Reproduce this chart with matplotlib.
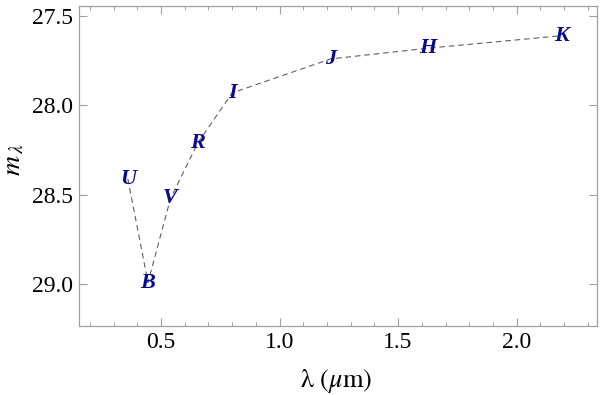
import matplotlib
matplotlib.use("Agg")
import matplotlib.pyplot as plt
from matplotlib.ticker import MultipleLocator

bands = ["U", "B", "V", "R", "I", "J", "H", "K"]
wavelength = [0.36, 0.445, 0.54, 0.655, 0.80, 1.215, 1.625, 2.19]
mag = [28.41, 28.99, 28.52, 28.21, 27.93, 27.74, 27.68, 27.61]

plt.rcParams["font.family"] = "serif"
plt.rcParams["font.serif"] = ["Liberation Serif"]
plt.rcParams["mathtext.fontset"] = "stix"

fig = plt.figure(figsize=(6.0, 3.95), dpi=100)
ax = fig.add_axes([79/600, 1-326/395, (597-79)/600, (326-6)/395])

ax.plot(wavelength, mag, ls=(0, (5, 3.5)), color="#606060", lw=0.8)
for b, x, y in zip(bands, wavelength, mag):
    ax.text(x, y, b, color="#0a0a8c", fontsize=16, fontweight="bold",
            fontstyle="italic", ha="center", va="center", family="Liberation Serif")

ax.set_xlim(0.154, 2.339)
ax.set_ylim(29.233, 27.444)
ax.xaxis.set_major_locator(MultipleLocator(0.5))
ax.xaxis.set_minor_locator(MultipleLocator(0.1))
ax.yaxis.set_major_locator(MultipleLocator(0.5))
ax.xaxis.set_major_formatter(plt.FuncFormatter(lambda v, p: f"{v:.1f}"))
ax.yaxis.set_major_formatter(plt.FuncFormatter(lambda v, p: f"{v:.1f}"))

for s in ax.spines.values():
    s.set_color("#a0a0a0")
    s.set_linewidth(0.9)
ax.tick_params(which="both", direction="in", top=True, right=True,
               color="#a0a0a0", labelsize=17, labelcolor="black")
ax.tick_params(which="major", length=5.5, width=0.8, pad=4)
ax.tick_params(which="minor", length=3, width=0.7)

ax.set_xlabel(r"$\mathrm{\lambda}\ (\mu\mathrm{m})$", fontsize=19)
ax.xaxis.set_label_coords(0.496, -0.128)
ax.set_ylabel(r"$m_{\,\lambda}$", fontsize=20)
ax.yaxis.set_label_coords(-0.102, 0.52)

fig.savefig("out.png", dpi=100)
